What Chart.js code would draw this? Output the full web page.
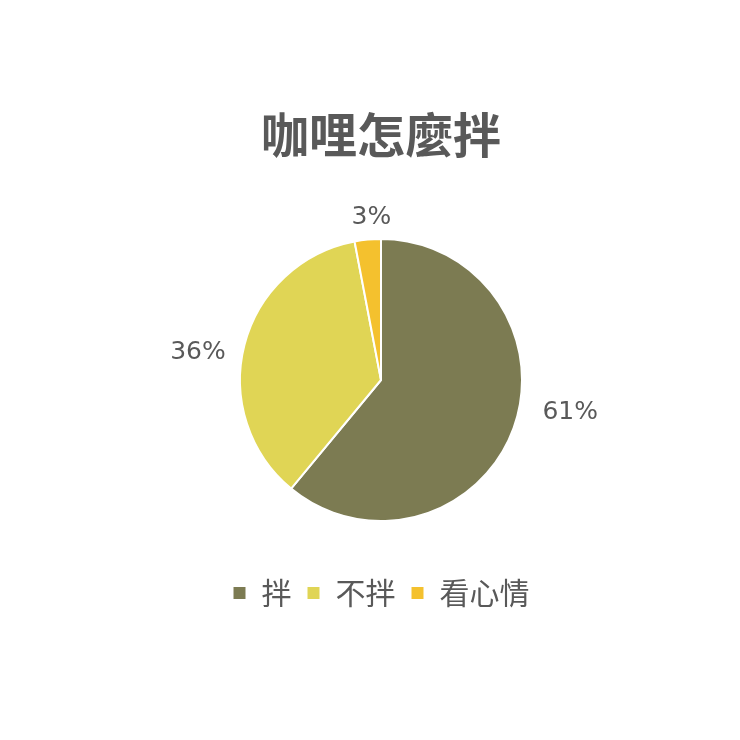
<!DOCTYPE html>
<html>
<head>
<meta charset="utf-8">
<script src="https://cdn.jsdelivr.net/npm/chart.js@4"></script>
<style>
  html, body { margin: 0; padding: 0; background: #ffffff; }
  #c { display: block; }
</style>
</head>
<body>
<canvas id="c" width="740" height="740"></canvas>
<script>
// 數據
const categories = ['拌', '不拌', '看心情'];
const shares = [61, 36, 3];
const sliceColors = ['#7c7b52', '#e0d555', '#f4c12e'];

const textColor = '#595959';
// 標籤位置微調（角度、距離）
const labelNudgeDeg = [-10, -6, 2];
const labelGap = [51, 44, 22];

// 外側百分比標籤
const outsideLabels = {
    id: 'outsideLabels',
    afterDatasetsDraw(chart) {
        const ctx = chart.ctx;
        const meta = chart.getDatasetMeta(0);
        ctx.save();
        ctx.font = '25px "DejaVu Sans"';
        ctx.fillStyle = textColor;
        ctx.textAlign = 'center';
        ctx.textBaseline = 'middle';
        meta.data.forEach((arc, i) => {
            const mid = (arc.startAngle + arc.endAngle) / 2 + labelNudgeDeg[i] * Math.PI / 180;
            const d = arc.outerRadius + labelGap[i];
            const x = arc.x + Math.cos(mid) * d;
            const y = arc.y + Math.sin(mid) * d;
            ctx.fillText(shares[i] + '%', x, y);
        });
        ctx.restore();
    }
};

new Chart(document.getElementById('c'), {
    type: 'pie',
    data: {
        labels: categories,
        datasets: [{
            data: shares,
            backgroundColor: sliceColors,
            borderColor: '#ffffff',
            borderWidth: 2,
            radius: 141
        }]
    },
    options: {
        responsive: false,
        animation: false,
        layout: { padding: { top: 0, left: 22, right: 0, bottom: 122 } },
        plugins: {
            title: {
                display: true,
                text: '咖哩怎麼拌',
                color: textColor,
                font: { family: '"Noto Sans CJK TC"', size: 48, weight: 'bold' },
                padding: { top: 106, bottom: 33.4 }
            },
            legend: {
                position: 'bottom',
                labels: {
                    color: textColor,
                    font: { family: '"Noto Sans CJK TC"', size: 30 },
                    boxWidth: 14,
                    boxHeight: 14,
                    padding: 15
                }
            },
            tooltip: { enabled: false }
        }
    },
    plugins: [outsideLabels]
});
</script>
</body>
</html>
